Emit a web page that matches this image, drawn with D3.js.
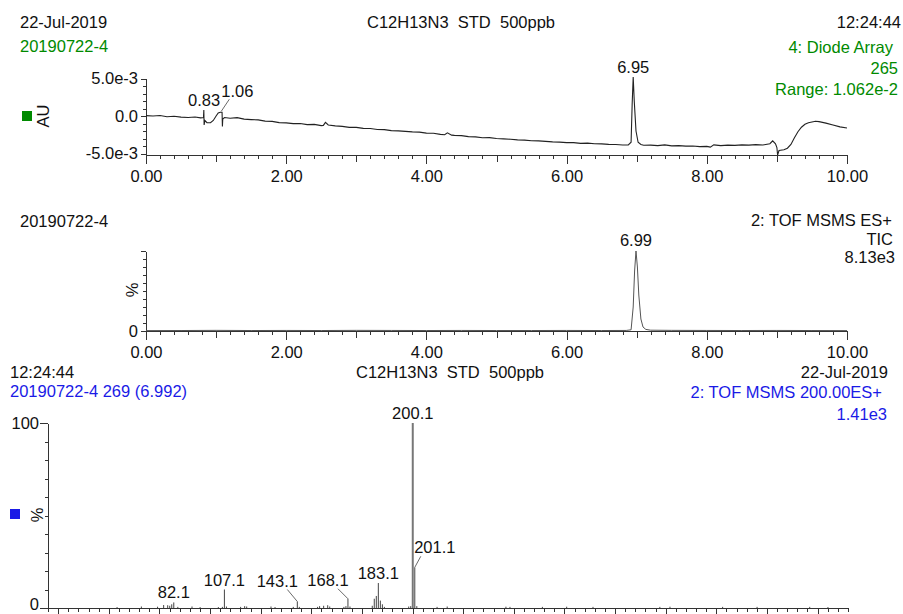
<!DOCTYPE html>
<html lang="en">
<head>
<meta charset="UTF-8">
<title>C12H13N3 STD 500ppb</title>
<script src="https://d3js.org/d3.v7.min.js"></script>
<style>
  body { margin: 0; background: #fff; }
  svg text { font-family: "Liberation Sans", Arial, sans-serif; font-size: 16.5px; fill: #111; white-space: pre; }
  .axis path, .axis line { stroke: #333; stroke-width: 1; shape-rendering: crispEdges; }
  .axis text { font-family: "Liberation Sans", Arial, sans-serif; font-size: 16.5px; fill: #111; }
  .green { fill: #008a00 !important; }
  .blue { fill: #1a1ae6 !important; }
  .leader { stroke: #444; stroke-width: 0.8; }
</style>
</head>
<body>
<div id="chart"></div>
<script>
// --- diode array trace (time min, absorbance x1e-3 AU)
const duvTime = [0, 0.1, 0.2, 0.3, 0.4, 0.5, 0.6, 0.7, 0.78, 0.82, 0.825, 0.829, 0.84, 0.87, 0.92, 0.96, 1.0, 1.03, 1.06, 1.085, 1.09, 1.095, 1.12, 1.2, 1.3, 1.4, 1.5, 1.6, 1.7, 1.8, 1.9, 2.0, 2.1, 2.2, 2.3, 2.4, 2.5, 2.53, 2.56, 2.6, 2.7, 2.8, 2.9, 3.0, 3.1, 3.2, 3.3, 3.4, 3.5, 3.6, 3.7, 3.8, 3.9, 4.0, 4.1, 4.2, 4.26, 4.3, 4.36, 4.4, 4.5, 4.6, 4.7, 4.8, 4.9, 5.0, 5.1, 5.2, 5.3, 5.4, 5.5, 5.6, 5.7, 5.8, 5.9, 6.0, 6.1, 6.2, 6.3, 6.4, 6.5, 6.6, 6.7, 6.8, 6.88, 6.92, 6.935, 6.95, 6.965, 6.99, 7.02, 7.06, 7.1, 7.2, 7.3, 7.4, 7.5, 7.6, 7.7, 7.8, 7.9, 8.0, 8.05, 8.1, 8.2, 8.3, 8.4, 8.5, 8.6, 8.7, 8.8, 8.9, 8.94, 8.98, 9.0, 9.01, 9.03, 9.1, 9.15, 9.2, 9.25, 9.3, 9.35, 9.4, 9.45, 9.5, 9.55, 9.6, 9.7, 9.8, 9.9, 10.0];
const duvAbs = [0.05, 0.0, 0.06, -0.1, -0.04, -0.15, -0.2, -0.14, -0.25, -0.2, 0.8, -1.2, -0.6, -0.9, -0.9, -0.6, 0.0, 0.4, 0.5, 0.5, -1.4, -0.4, -0.2, -0.3, -0.22, -0.42, -0.48, -0.52, -0.68, -0.72, -0.88, -0.92, -1.02, -1.0, -1.15, -1.12, -1.28, -1.25, -0.85, -1.2, -1.32, -1.38, -1.52, -1.52, -1.65, -1.66, -1.8, -1.82, -1.95, -1.98, -2.05, -2.12, -2.15, -2.28, -2.3, -2.45, -2.5, -2.25, -2.55, -2.58, -2.62, -2.75, -2.78, -2.9, -2.88, -3.0, -3.05, -3.1, -3.18, -3.22, -3.3, -3.32, -3.38, -3.45, -3.48, -3.55, -3.55, -3.65, -3.62, -3.7, -3.72, -3.78, -3.8, -3.86, -3.85, -3.5, 1.5, 5.2, 2.0, -2.0, -3.5, -3.8, -3.9, -3.88, -3.95, -3.85, -3.98, -3.95, -4.02, -4.0, -4.08, -4.05, -4.15, -3.85, -3.95, -3.88, -3.92, -3.85, -3.88, -3.82, -3.86, -3.7, -3.3, -3.7, -4.2, -5.2, -4.6, -4.5, -4.3, -3.8, -2.9, -2.1, -1.5, -1.1, -0.9, -0.8, -0.7, -0.75, -0.95, -1.2, -1.45, -1.6];
const duvPeaks = [0.83, 1.06, 6.95];

// --- TIC trace (time min, %)
const ticTime = [0, 0.5, 1.0, 1.5, 2.0, 2.5, 3.0, 3.5, 4.0, 4.5, 5.0, 5.5, 6.0, 6.5, 6.85, 6.92, 6.95, 6.97, 6.99, 7.01, 7.03, 7.06, 7.09, 7.13, 7.2, 7.5, 8.0, 8.5, 9.0, 9.5, 10.0];
const ticPct = [0.5, 0.6, 0.8, 0.6, 0.7, 0.6, 0.8, 0.7, 0.6, 0.7, 0.6, 0.6, 0.7, 0.6, 0.7, 1.5, 30, 75, 100, 80, 45, 15, 5, 2, 1, 0.8, 0.7, 0.6, 0.7, 0.6, 0.5];
const ticPeaks = [6.99];

// --- MS/MS spectrum (m/z, relative %)
const msMz = [54.1, 66.1, 74.1, 77.1, 79.1, 80.1, 81.1, 82.1, 84.1, 91.1, 95.1, 104.1, 106.1, 107.1, 108.1, 115.1, 117.1, 118.1, 130.1, 132.1, 141.1, 143.1, 144.1, 153.1, 154.1, 156.1, 158.1, 159.1, 166.1, 167.1, 168.1, 169.1, 180.1, 181.1, 182.1, 183.1, 184.1, 185.1, 186.1, 198.1, 199.1, 200.1, 201.1, 202.1, 212.1, 217.1, 246.1, 248.1, 264.1, 276.1, 289.1, 322.1, 327.1, 353.1, 370.1, 396.1, 405.1];
const msPct = [0.5, 0.8, 0.7, 1.6, 1.5, 1.2, 2.0, 3.0, 0.6, 0.8, 0.5, 0.5, 0.6, 10.0, 0.8, 0.6, 1.0, 0.8, 0.8, 0.5, 0.6, 3.5, 0.6, 0.6, 1.0, 1.2, 1.5, 0.8, 0.6, 1.0, 5.0, 0.8, 1.2, 5.0, 6.5, 13.5, 4.0, 2.0, 0.6, 0.8, 1.0, 100, 22, 1.0, 0.6, 0.8, 0.7, 0.6, 0.6, 0.7, 0.6, 0.6, 0.7, 0.6, 0.6, 0.6, 0.5];
const msLabels = [82.1, 107.1, 143.1, 168.1, 183.1, 200.1, 201.1];

const timeTicks = [0, 2, 4, 6, 8, 10];

const W = 903, H = 614;
const svg = d3.select("#chart").append("svg").attr("width", W).attr("height", H);

function txt(x, y, s, anchor, cls) {
  return svg.append("text").attr("x", x).attr("y", y)
    .attr("text-anchor", anchor || "start").attr("class", cls || null).text(s);
}

// time axis with minor / 1-min / 2-min ticks
function timeAxis(x, y0, labels) {
  svg.append("g").attr("class", "axis").attr("transform", `translate(0,${y0})`)
    .call(d3.axisBottom(x).tickValues(d3.range(0, 10.001, 0.2)).tickSize(4).tickSizeOuter(0).tickFormat(""));
  svg.append("g").attr("class", "axis").attr("transform", `translate(0,${y0})`)
    .call(d3.axisBottom(x).tickValues(d3.range(1, 10, 2)).tickSize(7).tickSizeOuter(0).tickFormat(""))
    .select(".domain").remove();
  svg.append("g").attr("class", "axis").attr("transform", `translate(0,${y0})`)
    .call(d3.axisBottom(x).tickValues(timeTicks).tickSize(9).tickPadding(6).tickSizeOuter(0)
      .tickFormat(labels ? d3.format(".2f") : ""))
    .select(".domain").remove();
}

// ================= panel 1 : Diode Array =================
const x1 = d3.scaleLinear().domain([0, 10]).range([146, 847]);
const y1 = d3.scaleLinear().domain([-5.2, 5]).range([155, 78.5]);

txt(20, 28, "22-Jul-2019");
txt(20, 52, "20190722-4", "start", "green");
txt(461, 28, "C12H13N3  STD  500ppb", "middle");
txt(901, 28, "12:24:44", "end");
txt(893, 53, "4: Diode Array", "end", "green");
txt(898, 74, "265", "end", "green");
txt(898, 95, "Range: 1.062e-2", "end", "green");

svg.append("g").attr("class", "axis").attr("transform", "translate(146,0)")
  .call(d3.axisLeft(y1).tickValues(d3.range(-5, 5.001, 1)).tickSize(3).tickSizeOuter(0).tickFormat(""));
svg.append("g").attr("class", "axis").attr("transform", "translate(146,0)")
  .call(d3.axisLeft(y1).tickValues([-5, 0, 5]).tickSize(5).tickPadding(3).tickSizeOuter(0)
    .tickFormat(d => d === 0 ? "0.0" : `${d.toFixed(1)}e-3`));
timeAxis(x1, 155, true);

svg.append("rect").attr("x", 22).attr("y", 111).attr("width", 10).attr("height", 10).attr("fill", "#008a00");
svg.append("text").attr("transform", "translate(43,116) rotate(-90)")
  .attr("text-anchor", "middle").attr("dy", "0.35em").text("AU");

const duv = duvTime.map((t, i) => [t, duvAbs[i]]);
svg.append("path").datum(duv)
  .attr("fill", "none").attr("stroke", "#222").attr("stroke-width", 1.1)
  .attr("d", d3.line().x(d => x1(d[0])).y(d => y1(d[1])));

duvPeaks.forEach(t => {
  const i = d3.minIndex(duvTime, v => Math.abs(v - t));
  const px = x1(t), py = y1(d3.max(duvAbs.slice(Math.max(0, i - 1), i + 2)));
  if (t === 1.06) {
    svg.append("line").attr("class", "leader").attr("x1", px + 1).attr("y1", py - 1).attr("x2", px + 9).attr("y2", py - 13);
    txt(px + 17, py - 15, "1.06", "middle");
  } else {
    txt(px, py - 4, t.toFixed(2), "middle");
  }
});

// ================= panel 2 : TIC =================
const y2 = d3.scaleLinear().domain([0, 100]).range([331, 251]);

txt(20, 227, "20190722-4");
txt(892, 226, "2: TOF MSMS ES+", "end");
txt(893, 245, "TIC", "end");
txt(895, 263, "8.13e3", "end");

svg.append("g").attr("class", "axis").attr("transform", "translate(146,0)")
  .call(d3.axisLeft(y2).tickValues(d3.range(0, 100.1, 10)).tickSize(3).tickSizeOuter(0).tickFormat(""));
svg.append("g").attr("class", "axis").attr("transform", "translate(146,0)")
  .call(d3.axisLeft(y2).tickValues([0, 100]).tickSize(5).tickPadding(3).tickSizeOuter(0)
    .tickFormat(d => d === 0 ? "0" : ""));
timeAxis(x1, 331, true);

svg.append("text").attr("transform", "translate(132,290) rotate(-90)")
  .attr("text-anchor", "middle").attr("dy", "0.35em").text("%");

svg.append("path").datum(ticTime.map((t, i) => [t, ticPct[i]]))
  .attr("fill", "none").attr("stroke", "#555").attr("stroke-width", 1)
  .attr("d", d3.line().x(d => x1(d[0])).y(d => y2(d[1])));

ticPeaks.forEach(t => {
  const i = d3.minIndex(ticTime, v => Math.abs(v - t));
  txt(x1(t), y2(ticPct[i]) - 5, t.toFixed(2), "middle");
});

// ================= panel 3 : MS/MS spectrum =================
const x3 = d3.scaleLinear().domain([20, 415]).range([48, 848]);
const y3 = d3.scaleLinear().domain([0, 100]).range([608, 423]);

txt(10, 378, "12:24:44");
txt(10, 397, "20190722-4 269 (6.992)", "start", "blue");
txt(450, 378, "C12H13N3  STD  500ppb", "middle");
txt(888, 378, "22-Jul-2019", "end");
txt(882, 398, "2: TOF MSMS 200.00ES+", "end", "blue");
txt(887, 420, "1.41e3", "end", "blue");

svg.append("g").attr("class", "axis").attr("transform", "translate(48,0)")
  .call(d3.axisLeft(y3).tickValues(d3.range(0, 100.1, 10)).tickSize(3).tickSizeOuter(0).tickFormat(""));
svg.append("g").attr("class", "axis").attr("transform", "translate(48,0)")
  .call(d3.axisLeft(y3).tickValues([0, 100]).tickSize(8).tickPadding(1).tickSizeOuter(0)
    .tickFormat(d3.format("d")))
  .selectAll("text").attr("dy", d => d === 0 ? "0.12em" : "0.32em");
svg.append("g").attr("class", "axis").attr("transform", "translate(0,608)")
  .call(d3.axisBottom(x3).tickValues(d3.range(20, 415.1, 5)).tickSize(4).tickSizeOuter(0).tickFormat(""));
svg.append("g").attr("class", "axis").attr("transform", "translate(0,608)")
  .call(d3.axisBottom(x3).tickValues(d3.range(25, 415, 25)).tickSize(7).tickSizeOuter(0).tickFormat(""))
  .select(".domain").remove();

svg.append("rect").attr("x", 10).attr("y", 509).attr("width", 10).attr("height", 10).attr("fill", "#1a1ae6");
svg.append("text").attr("transform", "translate(37,515) rotate(-90)")
  .attr("text-anchor", "middle").attr("dy", "0.35em").text("%");

const ms = msMz.map((m, i) => ({ mz: m, pct: msPct[i] }));
svg.selectAll(".stick").data(ms).enter().append("line")
  .attr("class", "stick")
  .attr("x1", d => x3(d.mz)).attr("x2", d => x3(d.mz))
  .attr("y1", y3(0)).attr("y2", d => y3(d.pct))
  .attr("stroke", d => d.pct > 50 ? "#777" : "#444")
  .attr("stroke-width", d => d.pct > 50 ? 2 : 1);

// label offsets (dx, dy) where a leader line is used
const leaderOffset = { 143.1: [-20, -15], 168.1: [-20, -13], 201.1: [20, -14] };
msLabels.forEach(m => {
  const d = ms.find(p => p.mz === m);
  const px = x3(d.mz), py = y3(d.pct);
  const off = leaderOffset[m];
  if (off) {
    const lx = px + off[0], ly = py + off[1];
    const sx = off[0] < 0 ? lx + 10 : lx - 14;
    svg.append("line").attr("class", "leader")
      .attr("x1", sx).attr("y1", ly + 3).attr("x2", px).attr("y2", py);
    txt(lx, ly, m.toFixed(1), "middle");
  } else {
    txt(px, py - 4, m.toFixed(1), "middle");
  }
});
</script>
</body>
</html>
